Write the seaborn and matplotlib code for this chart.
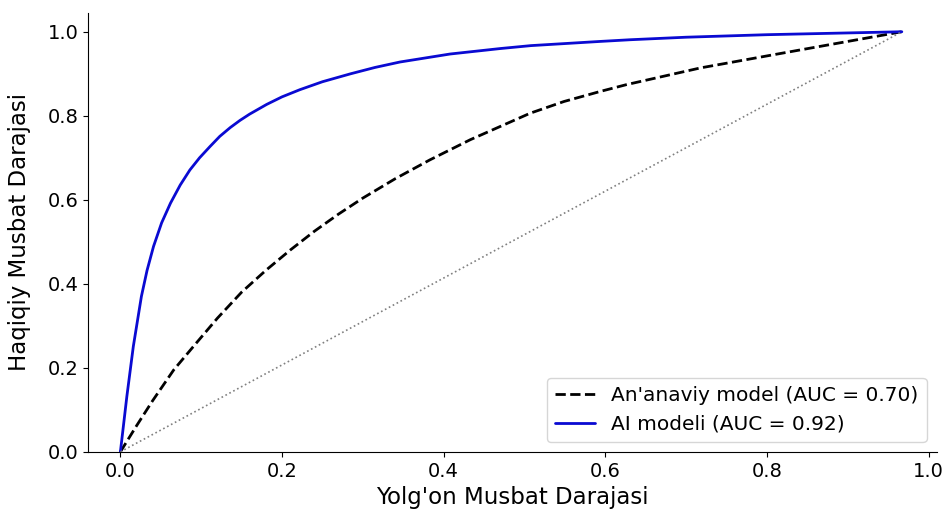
import numpy as np
import pandas as pd
import matplotlib
matplotlib.use("Agg")
import matplotlib.pyplot as plt
import seaborn as sns

# ROC points
fpr_ai = [0.0, 0.008, 0.016, 0.026, 0.033, 0.041, 0.051, 0.062, 0.074, 0.086,
          0.098, 0.111, 0.123, 0.136, 0.148, 0.160, 0.181, 0.200, 0.222, 0.250,
          0.285, 0.315, 0.346, 0.408, 0.470, 0.508, 0.594, 0.631, 0.700, 0.800,
          0.967]
tpr_ai = [0.0, 0.132, 0.251, 0.370, 0.432, 0.489, 0.545, 0.592, 0.635, 0.671,
          0.700, 0.727, 0.751, 0.772, 0.789, 0.804, 0.827, 0.845, 0.862, 0.881,
          0.900, 0.915, 0.928, 0.947, 0.960, 0.967, 0.977, 0.981, 0.987, 0.993,
          1.0]

fpr_old = [0.0, 0.020, 0.040, 0.066, 0.090, 0.120, 0.150, 0.180, 0.210, 0.240,
           0.270, 0.300, 0.340, 0.383, 0.433, 0.507, 0.549, 0.594, 0.626, 0.718,
           0.842, 0.967]
tpr_old = [0.0, 0.062, 0.122, 0.195, 0.250, 0.318, 0.380, 0.432, 0.480, 0.525,
           0.566, 0.604, 0.650, 0.695, 0.743, 0.806, 0.834, 0.858, 0.874, 0.914,
           0.957, 1.0]

diag_x = [0.0, 0.967]
diag_y = [0.0, 1.0]

label_old = "An'anaviy model (AUC = 0.70)"
label_ai = "AI modeli (AUC = 0.92)"

sns.set_style("ticks", rc={"text.color": "black", "axes.labelcolor": "black",
                           "xtick.color": "black", "ytick.color": "black",
                           "axes.edgecolor": "black"})
plt.rcParams['font.family'] = ['DejaVu Sans']

fig = plt.figure(figsize=(9.47, 5.14), dpi=100)
ax = fig.add_axes([0.093, 0.121, 0.896, 0.854])

df_old = pd.DataFrame({"fpr": fpr_old, "tpr": tpr_old})
df_ai = pd.DataFrame({"fpr": fpr_ai, "tpr": tpr_ai})

sns.lineplot(data=df_old, x="fpr", y="tpr", ax=ax, color="black", linestyle="--",
             linewidth=2, label=label_old, estimator=None, sort=False)
sns.lineplot(data=df_ai, x="fpr", y="tpr", ax=ax, color="#0a0ad2", linewidth=2,
             label=label_ai, estimator=None, sort=False)
ax.plot(diag_x, diag_y, color="gray", linestyle=":", linewidth=1.2)

ax.set_xlim(-0.04, 1.01)
ax.set_ylim(0, 1.045)
ax.set_xticks(np.arange(0, 1.01, 0.2))
ax.set_yticks(np.arange(0, 1.01, 0.2))
ax.tick_params(labelsize=14)
ax.set_xlabel("Yolg'on Musbat Darajasi", fontsize=16.5)
ax.set_ylabel("Haqiqiy Musbat Darajasi", fontsize=16.5, labelpad=12)
sns.despine(ax=ax)
ax.legend(loc="lower right", fontsize=14.5, handlelength=2)

fig.savefig("out.png", dpi=100)
